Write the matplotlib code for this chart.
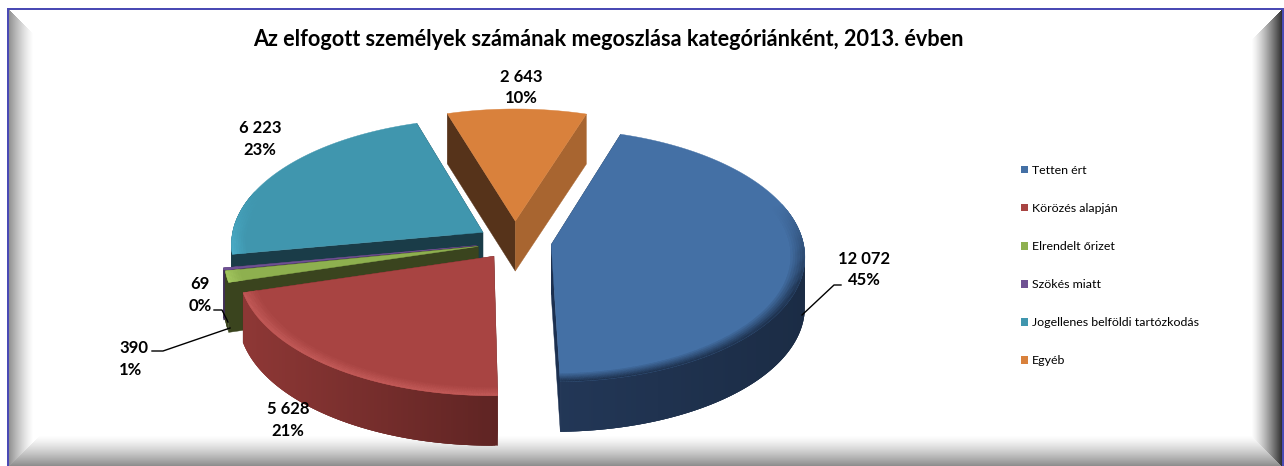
import matplotlib
matplotlib.use('Agg')

import matplotlib.pyplot as plt
import numpy as np
from matplotlib.collections import PolyCollection
from matplotlib.colors import to_rgb
from matplotlib.patches import Patch

plt.rcParams['font.family'] = ['Lato', 'DejaVu Sans']

# Data
title = "Az elfogott személyek számának megoszlása kategóriánként, 2013. évben"
categories = ["Tetten ért", "Körözés alapján", "Elrendelt őrizet", "Szökés miatt",
              "Jogellenes belföldi tartózkodás", "Egyéb"]
values = [12072, 5628, 390, 69, 6223, 2643]
shares = ["45%", "21%", "1%", "0%", "23%", "10%"]

# Slice styling
explode = [0.145, 0.14, 0.15, 0.155, 0.15, 0.17]
top_colors = ["#4470a5", "#a84442", "#8eb04f", "#6f5193", "#4096ae", "#d9813c"]
bevel_colors = ["#1f3350", "#c25a58", "#a6ca62", "#6f5193", "#4fb6d2", "#d9813c"]
wall_left = ["#24395a", "#8d3735", "#3a441e", "#3f2e55", "#1a3c48", "#a86530"]
wall_right = ["#1b2c45", "#5c2322", "#3a441e", "#3f2e55", "#1a3c48", "#a86530"]
start_face = ["#1c2e47", "#5c2322", "#3a441e", "#3f2e55", "#1a3c48", "#56331a"]
end_face = ["#1c3050", "#5c2322", "#3a441e", "#3f2e55", "#1a3c48", "#a86530"]
draw_order = [5, 4, 3, 2, 0, 1]

# Pie projection, in pixels
start_angle = 18.0
xc, yc = 515, 242
rx, ry, depth = 252, 125, 50
persp = 0.085
W, H = 1284, 466


def project(u, v, z=0.0):
    w = 1 + persp * v
    return xc + rx * u / w, yc - ry * v / w + z * depth


def mix(a, b, t):
    a, b = np.array(to_rgb(a)), np.array(to_rgb(b))
    return a + (b - a) * t


def frame_image():
    # mitred bevel around the chart area
    left, right, top, bottom = 9, 1281, 10, 465
    yy, xx = np.mgrid[0:H, 0:W]
    dl, dr, dt, db = xx - left, right - xx, yy - top, bottom - yy
    img = np.ones((H, W, 3))
    side = np.argmin(np.stack([dl, dr, dt, db]), axis=0)
    width = [24, 30, 30, 30]
    dark = [0.58, 0.20, 1.0, 0.56]
    for i, d in enumerate([dl, dr, dt, db]):
        t = np.clip(1 - d / width[i], 0, 1) ** 1.3
        mask = side == i
        img[mask] = (1 + (dark[i] - 1) * t[mask])[:, None]
    inside = (dl >= 0) & (dr >= 0) & (dt >= 0) & (db >= 0)
    img[~inside] = 1
    blue = np.array(to_rgb("#4a4ab4"))
    ring = (xx >= left - 2) & (xx <= right + 2) & (yy >= top - 2)
    ring &= ~((xx >= left) & (xx <= right) & (yy >= top))
    img[ring] = blue
    return img


fig = plt.figure(figsize=(W / 100, H / 100), dpi=100)
ax = fig.add_axes([0, 0, 1, 1])
ax.imshow(frame_image(), extent=(0, W, H, 0), interpolation='nearest', aspect='auto', zorder=0)
ax.set_xlim(0, W)
ax.set_ylim(H, 0)
ax.axis('off')

total = sum(values)
spans = np.array(values) / total * 360
starts = start_angle + np.concatenate([[0], np.cumsum(spans)[:-1]])

z = 1
for i in draw_order:
    a0, a1 = np.radians(starts[i]), np.radians(starts[i] + spans[i])
    mid = (a0 + a1) / 2
    ou, ov = explode[i] * np.sin(mid), explode[i] * np.cos(mid)
    th = np.linspace(a0, a1, max(int(spans[i] * 2), 6))
    us, vs = ou + np.sin(th), ov + np.cos(th)

    # cut faces
    for ang, col in ((a0, start_face[i]), (a1, end_face[i])):
        ue, ve = ou + np.sin(ang), ov + np.cos(ang)
        xs = [project(ou, ov)[0], project(ue, ve)[0], project(ue, ve, 1)[0], project(ou, ov, 1)[0]]
        ys = [project(ou, ov)[1], project(ue, ve)[1], project(ue, ve, 1)[1], project(ou, ov, 1)[1]]
        ax.fill(xs, ys, color=col, lw=0.3, zorder=z)
    z += 1

    # outer wall, front part only; each quad overlaps the next so no seams show
    quads, cols = [], []
    n = len(th)
    for j in range(n - 1):
        if np.cos(th[j]) > 0.3:
            continue
        j2 = min(j + 3, n - 1)
        xa, ya = project(us[j], vs[j])
        xb, yb = project(us[j2], vs[j2])
        xc2, yc2 = project(us[j2], vs[j2], 1)
        xd, yd = project(us[j], vs[j], 1)
        quads.append([(xa, ya), (xb, yb), (xc2, yc2), (xd, yd)])
        if i == 1:
            t = np.clip((xa - (xc - rx * 1.05)) / (rx * 1.05), 0, 1)
        else:
            t = np.clip((xa - xc) / (rx * 1.15), 0, 1)
        cols.append(mix(wall_left[i], wall_right[i], t))
    if quads:
        ax.add_collection(PolyCollection(quads, facecolors=cols, edgecolors='none', zorder=z))
    z += 1

    # top surface
    px, py = project(np.r_[ou, us], np.r_[ov, vs])
    ax.fill(px, py, color=top_colors[i], lw=0.3, zorder=z)
    z += 1

    # bevel band near the rim, strongest at the front
    radii = np.linspace(0.945, 1.0, 7)
    quads, cols = [], []
    for j in range(n - 1):
        f = np.clip(0.5 - 1.5 * np.cos(th[j]), 0, 1)
        if f <= 0:
            continue
        for k in range(len(radii) - 1):
            r0, r1 = radii[k], radii[k + 1]
            p = [project(ou + r0 * np.sin(th[j]), ov + r0 * np.cos(th[j])),
                 project(ou + r0 * np.sin(th[j + 1]), ov + r0 * np.cos(th[j + 1])),
                 project(ou + r1 * np.sin(th[j + 1]), ov + r1 * np.cos(th[j + 1])),
                 project(ou + r1 * np.sin(th[j]), ov + r1 * np.cos(th[j]))]
            quads.append(p)
            cols.append(mix(top_colors[i], bevel_colors[i], f * (k + 1) / (len(radii) - 1)))
    if quads:
        ax.add_collection(PolyCollection(quads, facecolors=cols, edgecolors=cols, linewidths=0.2, zorder=z))
    z += 1

# Title
ax.text(608, 39, title, ha='center', va='center', fontsize=15.55, fontweight='bold', color='black', zorder=50)

# Data labels
label_pos = [(864, 269.5), (288, 420), (119, 359), (200, 295), (260, 139), (521, 87.5)]
label_align = ['center', 'center', 'left', 'center', 'center', 'center']
for i in range(len(values)):
    txt = f"{values[i]:,}".replace(",", " ") + "\n" + shares[i]
    ax.text(label_pos[i][0], label_pos[i][1], txt, ha=label_align[i], va='center', fontsize=12,
            fontweight='bold', linespacing=1.46, color='black', zorder=50)

# Leader lines
ax.plot([802, 834, 841], [315, 285, 285], color='black', lw=1, zorder=49)
ax.plot([230, 163, 152], [328, 351, 351], color='black', lw=1, zorder=49)
ax.plot([214, 222, 228], [310, 310, 322], color='black', lw=1, zorder=49)

# Legend
handles = [Patch(facecolor=top_colors[i], edgecolor='none') for i in range(len(categories))]
ax.legend(handles, categories, loc='center left', bbox_to_anchor=(1021, 265.5),
          bbox_transform=ax.transData, frameon=False, fontsize=8.9, labelspacing=2.19,
          handlelength=0.6, handleheight=0.6, handletextpad=0.3, borderpad=0, borderaxespad=0)

plt.savefig("out.png", dpi=100)
plt.close()
